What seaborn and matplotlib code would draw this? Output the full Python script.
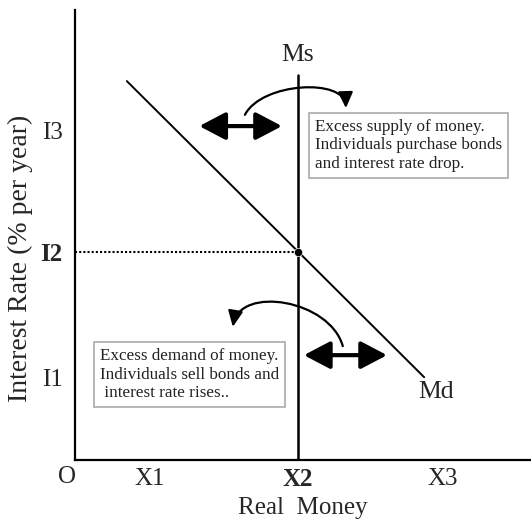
import matplotlib
matplotlib.use('Agg')
import matplotlib.pyplot as plt
import seaborn as sns
import pandas as pd
from matplotlib.patches import FancyArrowPatch
from matplotlib.path import Path

# tick positions / labels
x_ticks = [1.68, 4.99, 8.23]
x_labels = ['X1', 'X2', 'X3']
y_ticks = [1.84, 4.62, 7.33]
y_labels = ['I1', 'I2', 'I3']

# money demand (Md) and money supply (Ms)
md_x = [1.16, 7.81]
md_y = [8.42, 1.84]
ms_x = [4.99, 4.99]
ms_y = [0.0, 8.56]
eq_x = [4.99]
eq_y = [4.62]

sns.set_style('white')
plt.rcParams['font.family'] = ['Liberation Serif', 'DejaVu Serif']

fig = plt.figure(figsize=(5.31, 5.22), dpi=100)
ax = fig.add_axes([75 / 531, 62 / 522, 456 / 531, 450 / 522])
ax.set_xlim(0, 10.2)
ax.set_ylim(0, 10)

md = pd.DataFrame({'x': md_x, 'y': md_y})
ms = pd.DataFrame({'x': ms_x, 'y': ms_y})
sns.lineplot(data=md, x='x', y='y', color='black', lw=1.4, ax=ax, estimator=None)
sns.lineplot(data=ms, x='x', y='y', color='black', lw=1.8, ax=ax, sort=False, estimator=None)
ax.plot([0, eq_x[0]], [eq_y[0], eq_y[0]], color='black', lw=1.5, ls=(0, (1, 1)))
sns.scatterplot(x=eq_x, y=eq_y, color='black', s=35, ax=ax, zorder=5)

ax.text(ms_x[1], ms_y[1] + 0.45, 'Ms', ha='center', va='center', fontsize=18.5)
ax.text(md_x[1] + 0.27, md_y[1] - 0.33, 'Md', ha='center', va='center', fontsize=18.5)

# spines / ticks
for s in ['top', 'right']:
    ax.spines[s].set_visible(False)
for s in ['left', 'bottom']:
    ax.spines[s].set_linewidth(1.6)
    ax.spines[s].set_color('black')
ax.set_xticks(x_ticks)
ax.set_xticklabels(x_labels, fontsize=18)
ax.set_yticks(y_ticks)
ax.set_yticklabels(y_labels, fontsize=18)
ax.tick_params(axis='x', length=0, pad=6)
ax.tick_params(axis='y', length=0, pad=9)
ax.get_xticklabels()[1].set_fontweight('bold')
ax.get_yticklabels()[1].set_fontweight('bold')
ax.set_xlabel('Real  Money', fontsize=18, labelpad=4)
ax.set_ylabel('Interest Rate (% per year)', fontsize=20)
ax.yaxis.set_label_coords(-0.093, 0.449)
ax.text(-0.18, -0.38, 'O', ha='center', va='center', fontsize=18)

# double-headed arrows
for (x0, x1, y) in [(2.78, 4.63, 7.42), (5.12, 6.98, 2.33)]:
    a = FancyArrowPatch((x0, y), (x1, y),
                        arrowstyle='<|-|>,head_length=0.8,head_width=0.42',
                        mutation_scale=20, lw=3, color='black',
                        shrinkA=0, shrinkB=0)
    ax.add_patch(a)

# curved arrows
def curve(pts):
    p = Path(pts, [Path.MOVETO, Path.CURVE4, Path.CURVE4, Path.CURVE4])
    ax.add_patch(FancyArrowPatch(path=p, arrowstyle='-|>,head_length=0.6,head_width=0.28',
                                 mutation_scale=16, lw=1.6, color='black',
                                 shrinkA=0, shrinkB=0))

curve([(3.80, 7.67), (4.18, 8.40), (6.04, 8.49), (6.06, 7.82)])
curve([(5.99, 2.53), (5.70, 3.56), (3.69, 3.89), (3.53, 2.96)])

box = dict(boxstyle='square,pad=0.35', fc='white', ec='#aaaaaa', lw=1.2)
ax.text(5.36, 7.58, 'Excess supply of money.\nIndividuals purchase bonds\nand interest rate drop.',
        ha='left', va='top', fontsize=12.3, color='#222222', linespacing=1.2, bbox=box)
ax.text(0.55, 2.48, 'Excess demand of money.\nIndividuals sell bonds and\n interest rate rises..',
        ha='left', va='top', fontsize=12.3, color='#222222', linespacing=1.2, bbox=box)

fig.savefig('out.png', dpi=100)
